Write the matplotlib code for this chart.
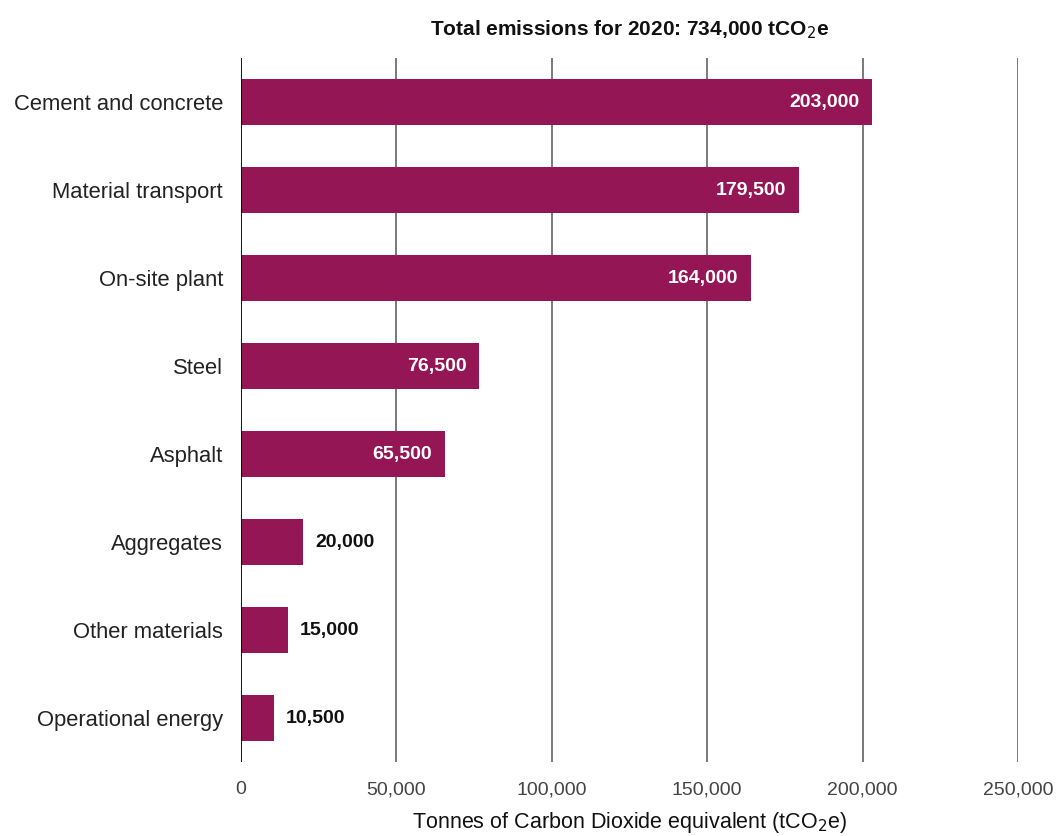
import numpy as np
from matplotlib import pyplot as plt

categories = ['Cement and concrete', 'Material transport', 'On-site plant', 'Steel',
              'Asphalt', 'Aggregates', 'Other materials', 'Operational energy']
emissions = [203000, 179500, 164000, 76500, 65500, 20000, 15000, 10500]
x_ticks = [0, 50000, 100000, 150000, 200000, 250000]

bar_color = '#951654'
plt.rcParams['font.family'] = ['Liberation Sans', 'DejaVu Sans']

fig = plt.figure(figsize=(10.59, 8.36), dpi=100)
ax = fig.add_axes([0.2276, 0.0885, 0.7337, 0.8421])

y = np.arange(len(categories))
ax.barh(y, emissions, height=0.52, color=bar_color, zorder=3)

# value labels: inside for long bars, outside for short ones
for yi, v in zip(y, emissions):
    label = f'{v:,}'
    if v > 50000:
        ax.text(v - 4000, yi, label, ha='right', va='center', color='white',
                fontsize=14, fontweight='bold', zorder=4)
    else:
        ax.text(v + 3800, yi, label, ha='left', va='center', color='#111111',
                fontsize=14, fontweight='bold', zorder=4)

ax.set_xlim(0, 250000)
ax.set_ylim(len(categories) - 0.5, -0.5)
ax.set_yticks(y)
ax.set_yticklabels(categories, fontsize=15.8, color='#222222')
ax.set_xticks(x_ticks)
ax.set_xticklabels([f'{t:,}' for t in x_ticks], fontsize=14, color='#444444')
ax.tick_params(axis='both', length=0)
ax.tick_params(axis='y', pad=13)
ax.tick_params(axis='x', pad=14)

for t in x_ticks[1:]:
    ax.axvline(t, color='#555555', linewidth=1.1, zorder=1)
ax.axvline(0, color='black', linewidth=1.3, zorder=5)

for s in ax.spines.values():
    s.set_visible(False)

ax.set_xlabel('Tonnes of Carbon Dioxide equivalent (tCO$_2$e)', fontsize=15.5,
              labelpad=8, color='#111111')
ax.set_title('Total emissions for 2020: 734,000 tCO$_2$e', fontsize=15,
             fontweight='bold', pad=16, color='#111111')

plt.savefig('out.png', dpi=100)
